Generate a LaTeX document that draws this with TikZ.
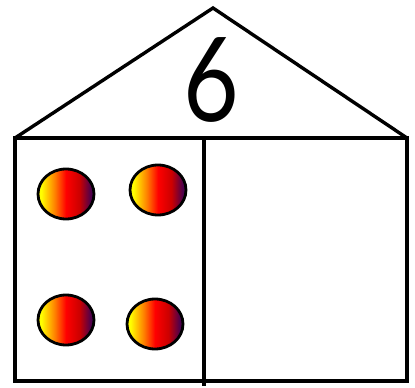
\documentclass[tikz,border=0pt]{standalone}
\usepackage{fontspec}
\setmainfont{Lato}
\usetikzlibrary{shapes.geometric}

\pgfdeclarehorizontalshading{ballshade}{100bp}{%
  color(0bp)=(yellow); color(28bp)=(yellow); color(40bp)=(orange);
  color(50bp)=(red); color(62bp)=(red!80!black); color(72bp)=(violet!60!black); color(100bp)=(violet!60!black)}

\begin{document}
\begin{tikzpicture}[x=0.03cm, y=-0.03cm, line width=2.9pt,
    ball/.style={ellipse, draw, line width=2.4pt, minimum width=1.68cm, minimum height=1.5cm, inner sep=0pt, shading=ballshade}]
    \useasboundingbox (0,0) rectangle (415,388);

    % roof and walls
    \draw (15,138) -- (213,8) -- (407,138);
    \draw (15,138) rectangle (407,381);
    \draw (204,138) -- (204,386);

    \node (number) [xscale=0.82] at (211,80) {\fontsize{100}{100}\selectfont 6};

    \node (ballA) [ball] at (66,194) {};
    \node (ballB) [ball] at (158,190) {};
    \node (ballC) [ball] at (66,320) {};
    \node (ballD) [ball] at (155,324) {};
\end{tikzpicture}
\end{document}
